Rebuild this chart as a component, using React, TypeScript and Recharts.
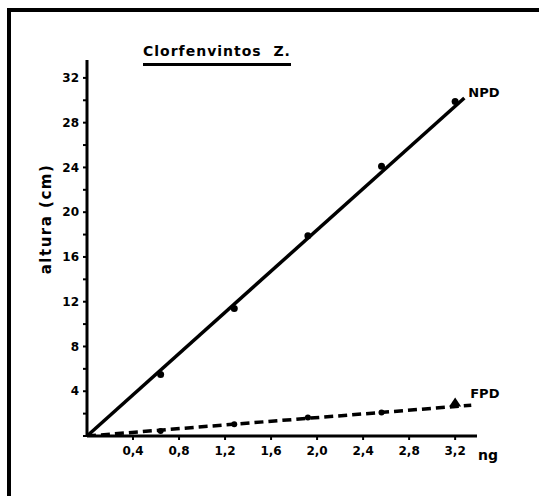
import React from 'react';
import { ComposedChart, Line, Scatter, XAxis, YAxis, ReferenceDot } from 'recharts';

// ng injected
const doses = [0.64, 1.28, 1.92, 2.56, 3.2];
// altura (cm)
const npdHeights = [5.5, 11.4, 17.9, 24.1, 29.9];
const fpdHeights = [0.45, 1.05, 1.65, 2.1, 2.9];
// fitted straight lines (start / end)
const npdFitX = [0, 3.28];
const npdFitY = [0, 30.2];
const fpdFitX = [0, 3.34];
const fpdFitY = [0, 2.75];

const xTicks = [0.4, 0.8, 1.2, 1.6, 2.0, 2.4, 2.8, 3.2];
const yTicks = [0, 2, 4, 6, 8, 10, 12, 14, 16, 18, 20, 22, 24, 26, 28, 30, 32];
const xMax = 3.39;
const yMax = 33.6;

const title = 'Clorfenvintos  Z.';
const yTitle = 'altura (cm)';
const xUnit = 'ng';
const npdName = 'NPD';
const fpdName = 'FPD';

const npdData = doses.map((x, i) => ({ x, y: npdHeights[i] }));
const fpdData = doses.map((x, i) => ({ x, y: fpdHeights[i] }));
const npdFit = npdFitX.map((x, i) => ({ x, y: npdFitY[i] }));
const fpdFit = fpdFitX.map((x, i) => ({ x, y: fpdFitY[i] }));

const FONT = '"DejaVu Sans", Arial, sans-serif';
const tickStyle = { fontSize: 12, fontWeight: 700, fill: '#000', fontFamily: FONT };

const NpdDot = (p: any) => <circle cx={p.cx} cy={p.cy} r={3.5} fill="#000" />;
const FpdDot = (p: any) => {
  const last = p.payload && p.payload.x === doses[doses.length - 1];
  if (last) {
    const s = 6;
    return (
      <polygon
        points={`${p.cx},${p.cy - s} ${p.cx - s},${p.cy + 3} ${p.cx + s},${p.cy + 3}`}
        fill="#000"
      />
    );
  }
  return <circle cx={p.cx} cy={p.cy} r={3} fill="#000" />;
};

const YTitle = () => (
  <text
    x={46}
    y={219}
    transform="rotate(-90 46 219)"
    textAnchor="middle"
    dominantBaseline="central"
    style={{ fontSize: 15, fontWeight: 700, fontFamily: FONT, fill: '#000', letterSpacing: 1.5 }}
  >
    {yTitle}
  </text>
);

const XTitle = () => (
  <text
    x={478}
    y={455}
    textAnchor="start"
    dominantBaseline="central"
    style={{ fontSize: 14, fontWeight: 700, fontFamily: FONT, fill: '#000' }}
  >
    {xUnit}
  </text>
);

export default function App() {
  return (
    <div style={{ position: 'absolute', left: 0, top: 0, width: 539, height: 496, background: '#fff' }}>
      <div style={{ position: 'absolute', left: 7, top: 8, width: 4, height: 488, background: '#000' }} />
      <div style={{ position: 'absolute', left: 7, top: 8, width: 532, height: 4, background: '#000' }} />
      <div
        style={{
          position: 'absolute',
          left: 143,
          top: 43,
          fontFamily: FONT,
          fontSize: 14,
          fontWeight: 700,
          whiteSpace: 'pre',
          color: '#000',
          letterSpacing: 1,
        }}
      >
        {title}
      </div>
      <div style={{ position: 'absolute', left: 143, top: 63, width: 148, height: 3, background: '#000' }} />
      <div style={{ position: 'absolute', left: 0, top: 0 }}>
        <ComposedChart
          width={539}
          height={496}
          margin={{ top: 60, right: 62, bottom: 30, left: 47 }}
        >
          <XAxis
            type="number"
            dataKey="x"
            domain={[0, xMax]}
            ticks={xTicks}
            interval={0}
            allowDataOverflow
            height={30}
            axisLine={{ stroke: '#000', strokeWidth: 3 }}
            tickLine={{ stroke: '#000', strokeWidth: 2 }}
            tickSize={4}
            tickMargin={6}
            tick={tickStyle}
            tickFormatter={(v: number) => v.toFixed(1).replace('.', ',')}
            label={{ content: <XTitle /> }}
          />
          <YAxis
            type="number"
            dataKey="y"
            domain={[0, yMax]}
            ticks={yTicks}
            interval={0}
            allowDataOverflow
            width={40}
            axisLine={{ stroke: '#000', strokeWidth: 3 }}
            tickLine={{ stroke: '#000', strokeWidth: 2 }}
            tickSize={4}
            tickMargin={4}
            tick={tickStyle}
            tickFormatter={(v: number) => (v % 4 === 0 && v !== 0 ? String(v) : '')}
            label={{ content: <YTitle /> }}
          />
          <Line
            data={npdFit}
            dataKey="y"
            type="linear"
            stroke="#000"
            strokeWidth={3.5}
            dot={false}
            activeDot={false}
            isAnimationActive={false}
          />
          <Line
            data={fpdFit}
            dataKey="y"
            type="linear"
            stroke="#000"
            strokeWidth={3.5}
            strokeDasharray="9 5"
            dot={false}
            activeDot={false}
            isAnimationActive={false}
          />
          <Scatter data={npdData} dataKey="y" shape={NpdDot} isAnimationActive={false} />
          <Scatter data={fpdData} dataKey="y" shape={FpdDot} isAnimationActive={false} />
          <ReferenceDot
            x={npdFitX[1]}
            y={npdFitY[1]}
            r={1}
            fill="none"
            stroke="none"
            ifOverflow="visible"
            label={{
              value: npdName,
              position: 'right',
              offset: 3,
              dy: -6,
              style: { fontSize: 13, fontWeight: 700, fontFamily: FONT, fill: '#000' },
            }}
          />
          <ReferenceDot
            x={fpdFitX[1]}
            y={fpdFitY[1]}
            r={1}
            fill="none"
            stroke="none"
            ifOverflow="visible"
            label={{
              value: fpdName,
              position: 'right',
              offset: -2,
              dy: -12,
              style: { fontSize: 13, fontWeight: 700, fontFamily: FONT, fill: '#000' },
            }}
          />
        </ComposedChart>
      </div>
    </div>
  );
}
